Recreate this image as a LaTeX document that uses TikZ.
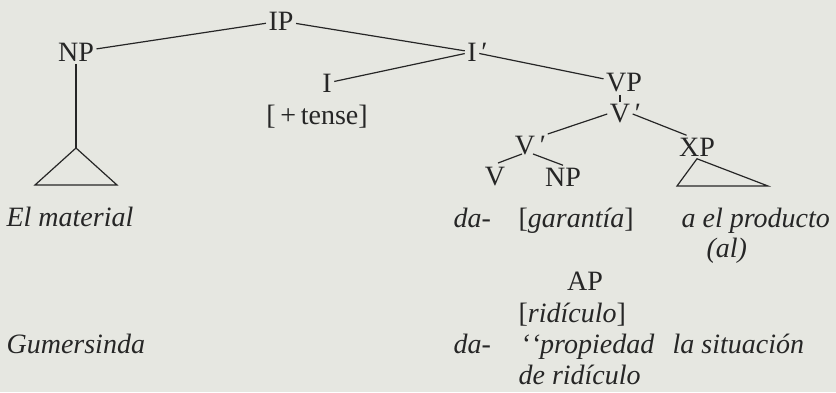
\documentclass[tikz,border=0pt]{standalone}
\usepackage{fontspec}
\setmainfont{Liberation Serif}
\usetikzlibrary{positioning}
\definecolor{paper}{RGB}{230,231,225}
\definecolor{ink}{RGB}{38,38,38}

\begin{document}
\begin{tikzpicture}[x=0.5pt, y=-0.5pt, font=\fontsize{14}{17}\selectfont, color=ink, line width=0.6pt,
    lab/.style={inner sep=1pt},
    word/.style={anchor=base west, inner sep=0pt, font=\fontsize{14}{17}\selectfont\itshape}]
    \fill[paper] (0,0) rectangle (836,392);
    \useasboundingbox (0,0) rectangle (836,392);

    \coordinate (a01) at (281, 21);
    \coordinate (a02) at ( 76, 52);
    \coordinate (a03) at (472, 52);
    \coordinate (a04) at (327, 83);
    \coordinate (a05) at (317,117);
    \coordinate (a06) at (624, 83);
    \coordinate (a07) at (620,114);
    \coordinate (a08) at (525,146);
    \coordinate (a09) at (697,147);
    \coordinate (a10) at (495,177);
    \coordinate (a11) at (563,177);

    \coordinate (t01) at ( 76,148);
    \coordinate (t02) at ( 35,185);
    \coordinate (t03) at (117,185);
    \coordinate (t05) at (677,186);
    \coordinate (t06) at (768,186);

    \coordinate (l01) at (  6,226);
    \coordinate (l02) at (453,227);
    \coordinate (l03) at (518,227);
    \coordinate (l04) at (681,227);
    \coordinate (l05) at (706,257);
    \coordinate (l06) at (585,290);
    \coordinate (l07) at (518,322);
    \coordinate (l08) at (  6,353);
    \coordinate (l09) at (453,353);
    \coordinate (l10) at (520,353);
    \coordinate (l11) at (672,353);
    \coordinate (l12) at (518,384);

    % tree labels
    \node[lab] (n01) at (a01) {IP};
    \node[lab] (n02) at (a02) {NP};
    \node[lab] (n03) at (a03) {I\rlap{\,′}};
    \node[lab] (n04) at (a04) {I};
    \node[lab] (n05) at (a05) {[\,+\,tense]};
    \node[lab] (n06) at (a06) {VP};
    \node[lab] (n07) at (a07) {V\rlap{\,′}};
    \node[lab] (n08) at (a08) {V\rlap{\,′}};
    \node[lab] (n09) at (a09) {XP};
    \node[lab] (n10) at (a10) {V};
    \node[lab] (n11) at (a11) {NP};

    \draw (n01) -- (n02);
    \draw (n01) -- (n03);
    \draw (n04) -- (n03);
    \draw (n03) -- (n06);
    \draw (n06.south -| n07) -- (n07.north);
    \draw (n07.west) -- ([xshift=5pt]n08.north east);
    \draw (n07.east) -- ([xshift=5pt]n09.north west);
    \draw ([xshift=-1.5pt, yshift=2pt]n08.south) -- ([xshift=1.5pt, yshift=1pt]n10.north);
    \draw ([xshift=4pt, yshift=2pt]n08.south) -- (n11.north);
    \draw (n02) -- (t01);
    \draw (t01) -- (t02) -- (t03) -- cycle;
    \draw (n09.south) -- (t05) -- (t06) -- cycle;

    % words
    \node[word] (w01) at (l01) {El material};
    \node[word] (w02) at (l02) {da-};
    \node[word] (w03) at (l03) {\upshape[\textit{garantía}]};
    \node[word] (w04) at (l04) {a el producto};
    \node[word] (w05) at (l05) {(al)};
    \node[anchor=base, inner sep=0pt] (w06) at (l06) {AP};
    \node[word] (w07) at (l07) {\upshape[\textit{ridículo}]};
    \node[word] (w08) at (l08) {Gumersinda};
    \node[word] (w09) at (l09) {da-};
    \node[word] (w10) at (l10) {‘\kern0.5pt‘propiedad};
    \node[word] (w11) at (l11) {la situación};
    \node[word] (w12) at (l12) {de ridículo};
\end{tikzpicture}
\end{document}
